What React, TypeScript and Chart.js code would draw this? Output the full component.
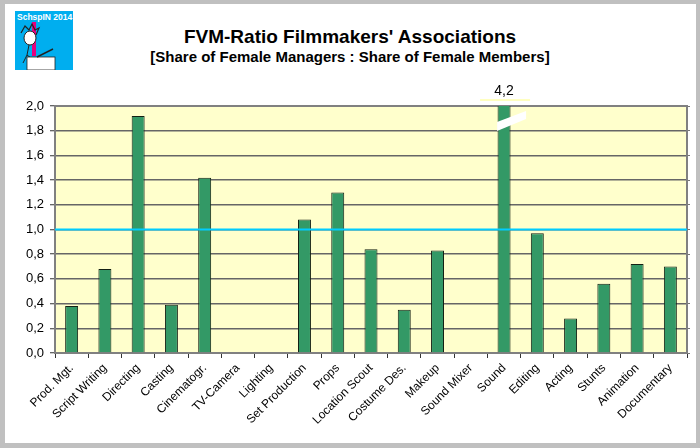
import React, { useEffect, useRef } from "react";
import { Chart, registerables } from "chart.js";

Chart.register(...registerables);

const CATEGORIES = [
  "Prod. Mgt.",
  "Script Writing",
  "Directing",
  "Casting",
  "Cinematogr.",
  "TV-Camera",
  "Lighting",
  "Set Production",
  "Props",
  "Location Scout",
  "Costume Des.",
  "Makeup",
  "Sound Mixer",
  "Sound",
  "Editing",
  "Acting",
  "Stunts",
  "Animation",
  "Documentary",
];

const FVM_RATIO: (number | null)[] = [
  0.38, 0.68, 1.92, 0.39, 1.42, null, null, 1.08, 1.3, 0.84, 0.35, 0.83, null, 4.2, 0.97, 0.28, 0.56,
  0.72, 0.7,
];

const Y_MIN = 0;
const Y_MAX = 2;
const Y_STEP = 0.2;
const PARITY = 1.0;

const FONT = "'Liberation Sans', Arial, sans-serif";

const fmt = (v: number) => v.toFixed(1).replace(".", ",");

const plotPlugin = {
  id: "plotDecor",
  beforeDraw(chart: any) {
    const { ctx, chartArea: a } = chart;
    ctx.save();
    ctx.fillStyle = "#FFFFCC";
    ctx.fillRect(a.left, a.top, a.right - a.left, a.bottom - a.top);
    ctx.restore();
  },
  beforeDatasetsDraw(chart: any) {
    const { ctx, chartArea: a } = chart;
    ctx.save();
    ctx.strokeStyle = "#808080";
    ctx.lineWidth = 2;
    ctx.strokeRect(a.left, a.top, a.right - a.left, a.bottom - a.top);
    ctx.restore();
  },
  afterDatasetsDraw(chart: any) {
    const { ctx, chartArea: a, scales } = chart;
    const y = scales.y.getPixelForValue(PARITY);
    ctx.save();
    ctx.strokeStyle = "#00CCFF";
    ctx.lineWidth = 2;
    ctx.beginPath();
    ctx.moveTo(a.left, y);
    ctx.lineTo(a.right, y);
    ctx.stroke();

    // values beyond the axis: break mark + value label
    const meta = chart.getDatasetMeta(0);
    FVM_RATIO.forEach((v, i) => {
      if (v == null || v <= Y_MAX) return;
      const cx = meta.data[i].x;
      const t = a.top;
      ctx.fillStyle = "#ffffff";
      ctx.beginPath();
      ctx.moveTo(cx - 7, t + 16);
      ctx.lineTo(cx + 22, t + 5);
      ctx.lineTo(cx + 22, t + 13);
      ctx.lineTo(cx - 7, t + 25);
      ctx.closePath();
      ctx.fill();

      ctx.fillStyle = "#ffffc0";
      ctx.fillRect(cx - 24, t - 7, 50, 2);
      ctx.fillStyle = "#000";
      ctx.font = `14px ${FONT}`;
      ctx.textAlign = "center";
      ctx.textBaseline = "middle";
      ctx.fillText(fmt(v), cx, t - 15);
    });
    ctx.restore();
  },
};

const Logo: React.FC = () => (
  <svg width={58} height={59} style={{ position: "absolute", left: 15, top: 11 }}>
    <rect width={58} height={59} fill="#00AEEF" />
    <rect x={17} y={11} width={4} height={34} fill="#E6007E" />
    <text x={2} y={9} fontSize={8.5} fontWeight="bold" fill="#fff" fontFamily={FONT}>
      SchspIN 2014
    </text>
    <path d="M6 22 L10 15 L14 19 L17 13 L20 19 L24 17 L21 24" fill="none" stroke="#222" strokeWidth={1.2} />
    <ellipse cx={15} cy={27} rx={6} ry={7} fill="#fff" stroke="#222" strokeWidth={1} />
    <path d="M14 34 L12 44 L20 50 M12 44 L8 52" fill="none" stroke="#222" strokeWidth={1} />
    <rect x={12} y={46} width={28} height={13} fill="#fff" stroke="#222" strokeWidth={0.8} />
    <path d="M22 46 L38 38" stroke="#222" strokeWidth={1.5} />
  </svg>
);

const App: React.FC = () => {
  const canvasRef = useRef<HTMLCanvasElement>(null);
  const chartRef = useRef<Chart | null>(null);

  useEffect(() => {
    if (!canvasRef.current) return;
    if (chartRef.current) {
      chartRef.current.destroy();
      chartRef.current = null;
    }

    chartRef.current = new Chart(canvasRef.current, {
      type: "bar",
      data: {
        labels: CATEGORIES,
        datasets: [
          {
            label: "FVM-Ratio",
            data: FVM_RATIO,
            backgroundColor: "#339966",
            borderColor: "#142014",
            borderWidth: 1,
            categoryPercentage: 1,
            barPercentage: 0.39,
          },
        ],
      },
      options: {
        responsive: true,
        maintainAspectRatio: false,
        animation: false,
        layout: { padding: { top: 106, left: 10, right: 9, bottom: 10 } },
        plugins: {
          legend: { display: false },
          tooltip: { enabled: false },
        },
        scales: {
          x: {
            grid: {
              offset: true,
              drawOnChartArea: false,
              tickLength: 5,
              color: "#333",
            },
            border: { display: false },
            ticks: {
              autoSkip: false,
              minRotation: 45,
              maxRotation: 45,
              color: "#000",
              font: { family: FONT, size: 12 },
            },
            afterFit: (scale: any) => {
              scale.height = 85;
            },
          },
          y: {
            min: Y_MIN,
            max: Y_MAX,
            grid: {
              color: "#666",
              lineWidth: 1.5,
              tickLength: 5,
              tickColor: "#333",
              tickWidth: 1,
            },
            border: { display: false },
            ticks: {
              stepSize: Y_STEP,
              color: "#000",
              padding: 6,
              font: { family: FONT, size: 13 },
              callback: (v: any) => fmt(Number(v)),
            },
            afterFit: (scale: any) => {
              scale.width = 45;
            },
          },
          y2: {
            position: "right",
            min: Y_MIN,
            max: Y_MAX,
            grid: {
              drawOnChartArea: false,
              tickLength: 3,
              tickColor: "#777",
            },
            border: { display: false },
            ticks: { stepSize: Y_STEP, display: false },
            afterFit: (scale: any) => {
              scale.width = 4;
            },
          },
        },
      },
      plugins: [plotPlugin],
    });

    return () => {
      if (chartRef.current) {
        chartRef.current.destroy();
        chartRef.current = null;
      }
    };
  }, []);

  return (
    <div
      style={{
        position: "fixed",
        left: 0,
        top: 0,
        width: 700,
        height: 448,
        background: "#c0c0c0",
        fontFamily: FONT,
      }}
    >
      <div
        style={{ position: "absolute", left: 5, top: 4, width: 691, height: 439, background: "#fff" }}
      />
      <Logo />
      <div
        style={{
          position: "absolute",
          left: 0,
          top: 26,
          width: 700,
          textAlign: "center",
          fontSize: 19,
          lineHeight: "22px",
          fontWeight: "bold",
        }}
      >
        FVM-Ratio Filmmakers' Associations
      </div>
      <div
        style={{
          position: "absolute",
          left: 0,
          top: 48,
          width: 700,
          textAlign: "center",
          fontSize: 15,
          lineHeight: "17px",
          fontWeight: "bold",
        }}
      >
        [Share of Female Managers : Share of Female Members]
      </div>
      <div style={{ position: "absolute", left: 0, top: 0, width: 700, height: 448 }}>
        <canvas ref={canvasRef}></canvas>
      </div>
    </div>
  );
};

export default App;
